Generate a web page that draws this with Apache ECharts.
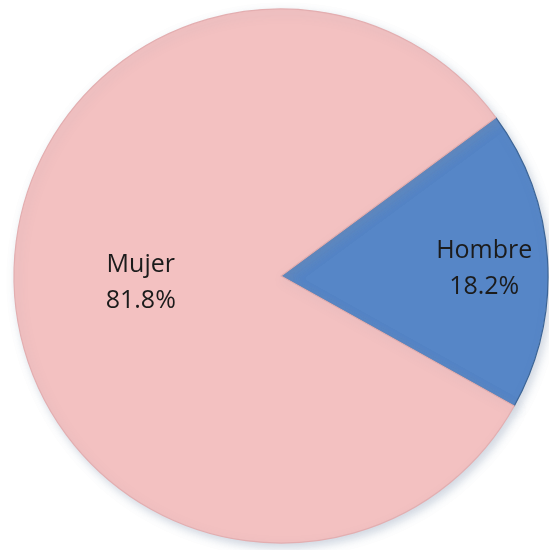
<!DOCTYPE html>
<html><head><meta charset="utf-8">
<script src="https://cdn.jsdelivr.net/npm/echarts@6/dist/echarts.min.js"></script>
<style>html,body{margin:0;padding:0;background:#fff}#c{width:549px;height:550px}</style>
</head><body><div id="c"></div>
<script>
const categories = ['Hombre', 'Mujer'];
const values = [18.2, 81.8];
const colors = ['#5686C7', '#F3C1C1'];
const borders = ['#3B6496', '#E3AEB0'];

const chart = echarts.init(document.getElementById('c'), null, {renderer: 'canvas'});
chart.setOption({
  backgroundColor: '#ffffff',
  animation: false,
  series: [{
    type: 'pie',
    center: [281, 276],
    radius: [0, 267],
    startAngle: 36.4,
    clockwise: true,
    avoidLabelOverlap: false,
    label: {
      show: true,
      position: 'inside',
      fontFamily: 'Open Sans',
      fontSize: 25,
      lineHeight: 36,
      color: '#1b1b1b',
      formatter: p => p.name + '\n' + p.value.toFixed(1) + '%'
    },
    labelLine: {show: false},
    data: categories.map((c, i) => ({
      name: c,
      value: values[i],
      itemStyle: {
        color: colors[i],
        borderColor: borders[i],
        borderWidth: 1.2,
        shadowBlur: 10,
        shadowColor: 'rgba(120,140,170,0.35)',
        shadowOffsetX: 3,
        shadowOffsetY: 4
      },
      label: i === 0 ? {offset: [67, 2]} : {offset: [-4, -2]}
    }))
  }]
});
</script></body></html>
